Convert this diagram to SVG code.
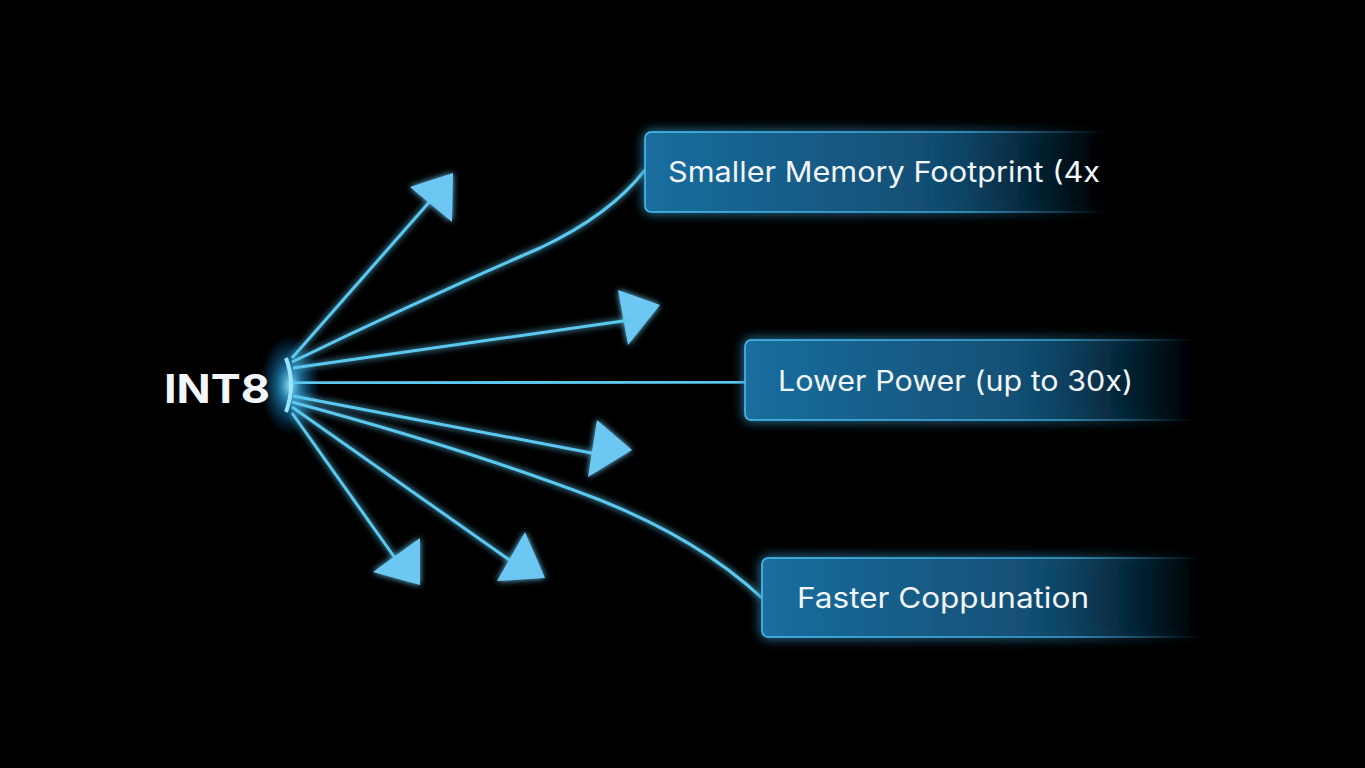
<svg xmlns="http://www.w3.org/2000/svg" width="1365" height="768" viewBox="0 0 1365 768">
<defs>
<style>
.ln{fill:none;stroke:#5cc8f0;stroke-width:3;filter:url(#glow)}
.ah{fill:#6cc8f2;filter:url(#glow)}
.bx{fill:url(#bg);stroke:url(#bs);stroke-width:1.5;filter:url(#glow2)}
.t{font-family:Inter,"Liberation Sans",Arial,sans-serif;font-size:28px;fill:#f0f6fa}
</style>
<linearGradient id="bg" x1="0" y1="0" x2="1" y2="0">
<stop offset="0" stop-color="#1a6ea0"/><stop offset="0.6" stop-color="#124f75"/><stop offset="1" stop-color="#0a2a40" stop-opacity="0"/>
</linearGradient>
<linearGradient id="bs" x1="0" y1="0" x2="1" y2="0">
<stop offset="0" stop-color="#4fc0f0"/><stop offset="0.7" stop-color="#3aa0d0"/><stop offset="1" stop-color="#3aa0d0" stop-opacity="0"/>
</linearGradient>
<radialGradient id="src"><stop offset="0" stop-color="#8fe4ff"/><stop offset="0.4" stop-color="#2aa8e8" stop-opacity="0.6"/><stop offset="1" stop-color="#0070c0" stop-opacity="0"/></radialGradient>
<filter id="glow" x="-50%" y="-50%" width="200%" height="200%"><feGaussianBlur stdDeviation="3" result="b"/><feMerge><feMergeNode in="b"/><feMergeNode in="SourceGraphic"/></feMerge></filter>
<filter id="glow2" x="-20%" y="-50%" width="140%" height="200%"><feGaussianBlur stdDeviation="6" result="b"/><feMerge><feMergeNode in="b"/><feMergeNode in="SourceGraphic"/></feMerge></filter>
</defs>
<rect width="1365" height="768" fill="#000"/>
<g id="source">
<ellipse cx="290" cy="385" rx="30" ry="50" fill="url(#src)"/>
<path d="M286 358 Q296 385 286 412" fill="none" stroke="#9be6ff" stroke-width="4"/>
<text class="t" x="164" y="403" textLength="106" lengthAdjust="spacingAndGlyphs" style="font-size:40px;font-weight:bold">INT8</text>
</g>
<g id="connectors">
<path class="ln" d="M292 358 L432 199"/>
<polygon class="ah" points="453,173 410,187 452,222"/>
<path class="ln" d="M292 362 Q420 300 540 248 Q610 215 645 170"/>
<polygon class="ah" points="618,290 660,305 628,345"/>
<path class="ln" d="M293 368 L630 320"/>
<path class="ln" d="M293 383 L745 382"/>
<path class="ln" d="M293 396 L602 455"/>
<polygon class="ah" points="597,420 632,450 588,477"/>
<path class="ln" d="M292 402 Q470 450 600 500 Q700 540 762 598"/>
<path class="ln" d="M292 407 L518 566"/>
<polygon class="ah" points="525,532 545,578 497,581"/>
<path class="ln" d="M292 413 L400 565"/>
<polygon class="ah" points="420,538 420,585 373,572"/>
</g>
<g id="box1"><rect class="bx" x="645" y="132" width="460" height="80" rx="6"/><text class="t" x="668" y="182" textLength="432" lengthAdjust="spacingAndGlyphs">Smaller Memory Footprint (4x</text></g>
<g id="box2"><rect class="bx" x="745" y="340" width="450" height="80" rx="6"/><text class="t" x="778" y="391" textLength="355" lengthAdjust="spacingAndGlyphs">Lower Power (up to 30x)</text></g>
<g id="box3"><rect class="bx" x="762" y="558" width="440" height="79" rx="6"/><text class="t" x="797" y="608" textLength="292" lengthAdjust="spacingAndGlyphs">Faster Coppunation</text></g>
</svg>
